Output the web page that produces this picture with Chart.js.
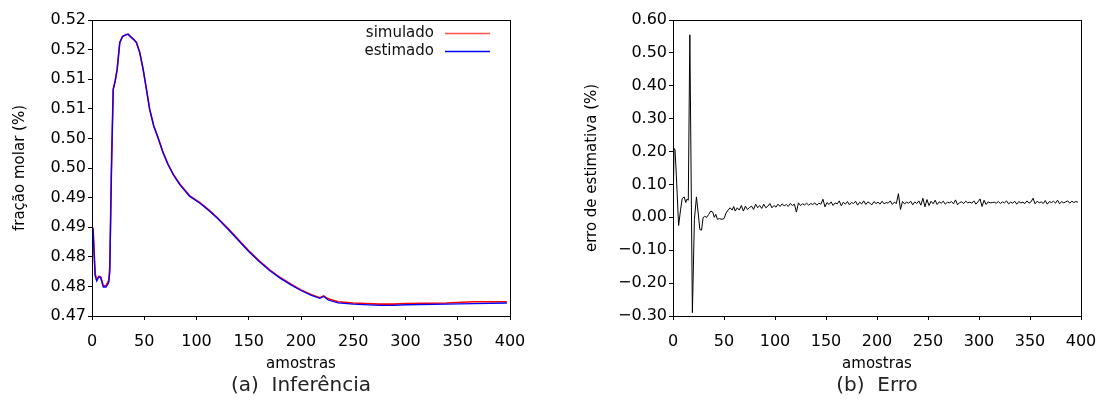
<!DOCTYPE html>
<html>
<head>
<meta charset="utf-8">
<script src="https://cdn.jsdelivr.net/npm/chart.js@4.4.0/dist/chart.umd.min.js"></script>
<style>
  html, body { margin: 0; padding: 0; background: #fff; }
  #wrap { position: relative; width: 1096px; height: 407px; }
  canvas { position: absolute; top: 0; }
</style>
</head>
<body>
<div id="wrap">
  <canvas id="inferencia" width="548" height="407" style="left:0px"></canvas>
  <canvas id="erro" width="548" height="407" style="left:548px"></canvas>
</div>
<script>
// --- DATA: (a) Inferência ---
const fracSamples = [0, 1, 2, 3, 4.5, 6.5, 8.3, 10.8, 13.4, 16, 17, 18.7, 20.3, 22.2, 24.1, 26.6, 29.2, 32.3, 34.6, 36.8,
  40, 42.5, 45.7, 48.9, 52.1, 55.2, 59.1, 63.2, 68, 72.8, 77.6, 84, 93.5, 103, 112.6, 120, 130, 140, 150, 160,
  170, 180, 190, 200, 210, 218, 221.8, 226, 235.5, 250, 275, 288, 301, 339, 365, 397];
const simulado = [0.4850, 0.4848, 0.4810, 0.4772, 0.4761, 0.4767, 0.4766, 0.4751, 0.4751, 0.4760, 0.4782, 0.4960, 0.5083, 0.5097, 0.5117, 0.5162, 0.5172, 0.5175, 0.5176, 0.5172,
  0.5167, 0.5162, 0.5145, 0.5117, 0.5083, 0.5049, 0.5021, 0.5001, 0.4976, 0.4956, 0.4940, 0.4923, 0.4903, 0.4892, 0.4878, 0.4866, 0.4848, 0.4829, 0.4810, 0.4793,
  0.4778, 0.4765, 0.4754, 0.4744, 0.4736, 0.4731, 0.4734, 0.4729, 0.4724, 0.4722, 0.4720, 0.4720, 0.4721, 0.4722, 0.4724, 0.4724];
const estimado = [0.4850, 0.4847, 0.4805, 0.4768, 0.4759, 0.4766, 0.4765, 0.4749, 0.4749, 0.4756, 0.4773, 0.4953, 0.5083, 0.5097, 0.5117, 0.5162, 0.5172, 0.5175, 0.5176, 0.5172,
  0.5167, 0.5162, 0.5145, 0.5117, 0.5083, 0.5049, 0.5021, 0.5001, 0.4976, 0.4956, 0.4939, 0.4922, 0.4902, 0.4891, 0.4877, 0.4865, 0.4847, 0.4828, 0.4809, 0.4792,
  0.4777, 0.4764, 0.4753, 0.4743, 0.4735, 0.4730, 0.4733, 0.4727, 0.4722, 0.4720, 0.4718, 0.4718, 0.4719, 0.4720, 0.4721, 0.4722];
const fracTicks = { min: 0.47, max: 0.52, step: 0.005 };

// --- DATA: (b) Erro ---
const errSamples = [0, 1, 2, 3.3, 5.5, 7.5, 9, 11, 12.5, 13.5, 15, 16.5, 19, 21, 23, 25, 26.3, 28, 29.5, 31,
  33, 35, 37, 39, 40.5, 42, 43.5, 45.5, 48, 50, 52, 54, 56, 58, 59.5,
  61, 63, 65, 67, 69, 71, 73, 75, 77, 79,
  81, 83, 85, 87, 89, 91, 93, 95, 97, 99,
  101, 103, 105, 107, 109, 111, 113, 115, 117, 119,
  121, 123, 125, 127, 129, 131, 133, 135, 137, 139,
  141, 143, 145, 147, 149, 151, 153, 155, 157, 159,
  161, 163, 165, 167, 169, 171, 173, 175, 177, 179,
  181, 183, 185, 187, 189, 191, 193, 195, 197, 199,
  201, 203, 205, 207, 209, 211, 213, 215, 217, 219,
  221, 223, 225, 227, 229, 231, 233, 235, 237, 239,
  241, 243, 245, 247, 249, 251, 253, 255, 257, 259,
  261, 263, 265, 267, 269, 271, 273, 275, 277, 279,
  281, 283, 285, 287, 289, 291, 293, 295, 297, 299,
  301, 303, 305, 307, 309, 311, 313, 315, 317, 319,
  321, 323, 325, 327, 329, 331, 333, 335, 337, 339,
  341, 343, 345, 347, 349, 351, 353, 355, 357, 359,
  361, 363, 365, 367, 369, 371, 373, 375, 377, 379,
  381, 383, 385, 387, 389, 391, 393, 395, 397];
const erroEstimativa = [0.000, 0.210, 0.205, 0.126, -0.025, 0.025, 0.057, 0.062, 0.045, 0.055, 0.052, 0.555, -0.290, -0.006, 0.062, 0.004, -0.037, -0.039, -0.001, 0.003,
  0.000, 0.009, 0.019, 0.016, 0.000, 0.009, -0.006, -0.004, -0.006, -0.004, 0.013, 0.022, 0.029, 0.022, 0.033,
  0.019, 0.029, 0.022, 0.036, 0.019, 0.034, 0.024, 0.030, 0.034, 0.024,
  0.040, 0.029, 0.036, 0.027, 0.040, 0.029, 0.034, 0.042, 0.029, 0.036,
  0.031, 0.040, 0.033, 0.041, 0.035, 0.039, 0.033, 0.042, 0.036, 0.040,
  0.016, 0.044, 0.036, 0.041, 0.038, 0.043, 0.037, 0.042, 0.039, 0.044,
  0.037, 0.043, 0.040, 0.055, 0.032, 0.045, 0.039, 0.047, 0.036, 0.044,
  0.041, 0.050, 0.035, 0.046, 0.040, 0.048, 0.038, 0.045, 0.042, 0.049,
  0.037, 0.046, 0.041, 0.050, 0.039, 0.047, 0.043, 0.038, 0.048, 0.042,
  0.046, 0.040, 0.049, 0.041, 0.045, 0.043, 0.050, 0.039, 0.046, 0.042,
  0.072, 0.024, 0.048, 0.041, 0.046, 0.043, 0.049, 0.038, 0.047, 0.042,
  0.050, 0.037, 0.058, 0.032, 0.054, 0.036, 0.049, 0.041, 0.052, 0.039,
  0.047, 0.043, 0.049, 0.040, 0.046, 0.044, 0.048, 0.041, 0.053, 0.038,
  0.045, 0.047, 0.042, 0.049, 0.044, 0.046, 0.043, 0.050, 0.040, 0.047,
  0.056, 0.033, 0.052, 0.039, 0.047, 0.044, 0.045, 0.046, 0.043, 0.048,
  0.042, 0.047, 0.044, 0.050, 0.041, 0.046, 0.043, 0.049, 0.040, 0.048,
  0.044, 0.046, 0.042, 0.050, 0.043, 0.047, 0.058, 0.041, 0.049, 0.044,
  0.047, 0.042, 0.051, 0.040, 0.048, 0.045, 0.049, 0.043, 0.052, 0.041,
  0.048, 0.044, 0.047, 0.050, 0.043, 0.049, 0.045, 0.048, 0.046];
const erroTicks = { min: -0.3, max: 0.6, step: 0.1 };

const sampleTicks = { min: 0, max: 400, step: 50 };

Chart.defaults.font.family = "'DejaVu Sans', sans-serif";
Chart.defaults.color = '#000';

const toPoints = (xs, ys) => xs.map((x, i) => ({ x: x, y: ys[i] }));

// frame, caption and legend drawn on top of the chart area
const decor = {
  id: 'decor',
  afterDraw(chart, args, opts) {
    const { ctx, chartArea: a } = chart;
    ctx.save();
    ctx.strokeStyle = '#000';
    ctx.lineWidth = 1;
    ctx.strokeRect(a.left + 0.5, a.top + 0.5, a.right - a.left, a.bottom - a.top);

    ctx.fillStyle = '#222';
    ctx.font = "20px 'DejaVu Sans', sans-serif";
    ctx.textAlign = 'center';
    ctx.textBaseline = 'middle';
    ctx.fillText(opts.caption, (a.left + a.right) / 2, 386);

    (opts.legend || []).forEach((item, i) => {
      const y = 33 + i * 18;
      ctx.font = "15px 'DejaVu Sans', sans-serif";
      ctx.textAlign = 'right';
      ctx.fillStyle = '#111';
      ctx.fillText(item.label, a.right - 76, y);
      ctx.strokeStyle = item.color;
      ctx.lineWidth = 1.3;
      ctx.beginPath();
      ctx.moveTo(a.right - 65, y + 0.5);
      ctx.lineTo(a.right - 20, y + 0.5);
      ctx.stroke();
    });
    ctx.restore();
  }
};

function makeOptions(cfg) {
  return {
    responsive: false,
    animation: false,
    devicePixelRatio: 1,
    layout: { padding: { top: 20, right: cfg.rightPad, bottom: 29, left: 0 } },
    plugins: {
      legend: { display: false },
      tooltip: { enabled: false },
      decor: { caption: cfg.caption, legend: cfg.legend }
    },
    scales: {
      x: {
        type: 'linear',
        min: sampleTicks.min,
        max: sampleTicks.max,
        afterFit: (s) => { s.height = 62; s.paddingLeft = 0; s.paddingRight = 0; },
        border: { display: true, color: '#000', width: 1 },
        grid: { drawOnChartArea: false, drawTicks: true, tickLength: 4, color: '#000' },
        ticks: { stepSize: sampleTicks.step, autoSkip: false, maxRotation: 0, padding: 12, font: { size: 16 } },
        title: { display: true, text: 'amostras', font: { size: 15 }, padding: { top: 0, bottom: 5 } }
      },
      y: {
        min: cfg.yTicks.min,
        max: cfg.yTicks.max,
        afterFit: (s) => { s.width = cfg.yWidth; s.paddingTop = 0; s.paddingBottom = 0; },
        border: { display: true, color: '#000', width: 1 },
        grid: { drawOnChartArea: false, drawTicks: true, tickLength: 4, color: '#000' },
        ticks: { stepSize: cfg.yTicks.step, autoSkip: false, padding: 2, font: { size: 16 }, callback: cfg.yFormat },
        title: { display: true, text: cfg.yTitle, font: { size: 15 }, padding: { top: cfg.yTitlePad, bottom: 0 } }
      }
    }
  };
}

const fmtFrac = (v) => (Math.round(v * 100 + 1e-6) / 100).toFixed(2);
const fmtErr = (v) => {
  const s = (Math.round(v * 100) / 100).toFixed(2);
  return s.startsWith('-') ? '\u2212' + s.slice(1) : s;
};

new Chart(document.getElementById('inferencia'), {
  type: 'line',
  data: {
    datasets: [
      { label: 'simulado', data: toPoints(fracSamples, simulado), borderColor: '#ff0000', borderWidth: 1.6, pointRadius: 0, tension: 0, order: 2 },
      { label: 'estimado', data: toPoints(fracSamples, estimado), borderColor: '#0000ff', borderWidth: 1.3, pointRadius: 0, tension: 0, order: 1 }
    ]
  },
  options: makeOptions({
    yTicks: fracTicks, yFormat: fmtFrac, yTitle: 'fração molar (%)', yWidth: 92, yTitlePad: 11, rightPad: 38,
    caption: '(a)  Inferência',
    legend: [{ label: 'simulado', color: '#ff5050' }, { label: 'estimado', color: '#0000ff' }]
  }),
  plugins: [decor]
});

new Chart(document.getElementById('erro'), {
  type: 'line',
  data: {
    datasets: [
      { label: 'erro', data: toPoints(errSamples, erroEstimativa), borderColor: '#000', borderWidth: 1, pointRadius: 0, tension: 0 }
    ]
  },
  options: makeOptions({
    yTicks: erroTicks, yFormat: fmtErr, yTitle: 'erro de estimativa (%)', yWidth: 125, yTitlePad: 35, rightPad: 15,
    caption: '(b)  Erro',
    legend: []
  }),
  plugins: [decor]
});
</script>
</body>
</html>
